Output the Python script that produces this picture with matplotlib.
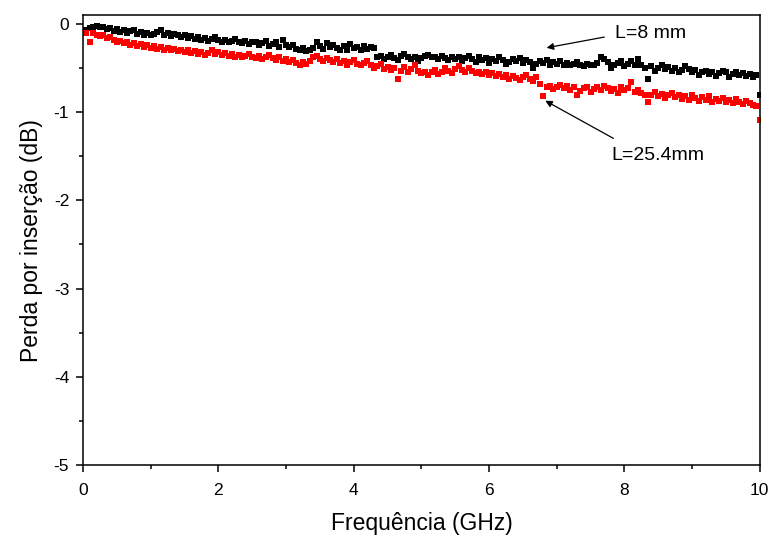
import numpy as np
import matplotlib.pyplot as plt

plt.rcParams['font.family'] = ['Liberation Sans', 'DejaVu Sans']
plt.rcParams['axes.unicode_minus'] = False

# frequency points, 0.05 GHz step
freq = [round(0.05 * k, 2) for k in range(1, 201)]

loss_8mm = [
    -0.07, -0.05, -0.03, -0.02, -0.04, -0.03, -0.06, -0.05, -0.08, -0.06,
    -0.09, -0.07, -0.10, -0.08, -0.07, -0.11, -0.09, -0.12, -0.10, -0.13,
    -0.11, -0.09, -0.07, -0.12, -0.10, -0.14, -0.11, -0.13, -0.15, -0.12,
    -0.16, -0.14, -0.17, -0.15, -0.18, -0.16, -0.19, -0.17, -0.15, -0.18,
    -0.20, -0.18, -0.21, -0.19, -0.17, -0.20, -0.22, -0.19, -0.23, -0.21,
    -0.20, -0.24, -0.22, -0.19, -0.25, -0.23, -0.21, -0.26, -0.18, -0.24,
    -0.26, -0.24, -0.28, -0.30, -0.27, -0.31, -0.29, -0.27, -0.20, -0.25,
    -0.28, -0.22, -0.26, -0.24, -0.27, -0.29, -0.25, -0.30, -0.23, -0.27,
    -0.26, -0.29, -0.25, -0.28, -0.26, -0.27, -0.38, -0.36, -0.40, -0.37,
    -0.35, -0.39, -0.41, -0.36, -0.34, -0.38, -0.40, -0.37, -0.42, -0.39,
    -0.36, -0.35, -0.38, -0.37, -0.40, -0.36, -0.39, -0.41, -0.38, -0.40,
    -0.37, -0.42, -0.39, -0.36, -0.40, -0.43, -0.38, -0.41, -0.39, -0.44,
    -0.40, -0.42, -0.38, -0.41, -0.45, -0.43, -0.40, -0.42, -0.39, -0.44,
    -0.41, -0.43, -0.50, -0.45, -0.42, -0.44, -0.41, -0.46, -0.43, -0.45,
    -0.42, -0.46, -0.44, -0.47, -0.45, -0.43, -0.46, -0.48, -0.45, -0.47,
    -0.46, -0.44, -0.37, -0.40, -0.43, -0.50, -0.47, -0.44, -0.42, -0.48,
    -0.45, -0.42, -0.47, -0.40, -0.46, -0.50, -0.62, -0.48, -0.53, -0.50,
    -0.47, -0.51, -0.49, -0.53, -0.50, -0.55, -0.52, -0.48, -0.51, -0.54,
    -0.52, -0.58, -0.55, -0.53, -0.57, -0.54, -0.59, -0.56, -0.53, -0.55,
    -0.60, -0.57, -0.55, -0.58, -0.56, -0.59, -0.57, -0.60, -0.58, -0.80,
]

loss_25mm = [
    -0.10, -0.21, -0.10, -0.12, -0.14, -0.13, -0.16, -0.15, -0.18, -0.20,
    -0.19, -0.22, -0.21, -0.24, -0.22, -0.25, -0.23, -0.26, -0.24, -0.27,
    -0.25, -0.28, -0.26, -0.29, -0.27, -0.30, -0.28, -0.31, -0.29, -0.32,
    -0.30, -0.33, -0.31, -0.34, -0.32, -0.35, -0.33, -0.30, -0.34, -0.32,
    -0.35, -0.33, -0.36, -0.34, -0.37, -0.35, -0.38, -0.36, -0.34, -0.37,
    -0.39, -0.36, -0.40, -0.37, -0.35, -0.39, -0.41, -0.38, -0.42, -0.40,
    -0.43, -0.41, -0.44, -0.46, -0.43, -0.45, -0.42, -0.38, -0.36, -0.40,
    -0.42, -0.39, -0.41, -0.43, -0.40, -0.44, -0.42, -0.46, -0.43, -0.41,
    -0.45, -0.47, -0.44, -0.42, -0.46, -0.50, -0.48, -0.45, -0.51, -0.49,
    -0.52, -0.50, -0.62, -0.53, -0.49, -0.55, -0.51, -0.47, -0.53, -0.56,
    -0.54, -0.58, -0.55, -0.52, -0.57, -0.54, -0.50, -0.53, -0.56, -0.51,
    -0.48, -0.52, -0.55, -0.50, -0.53, -0.56, -0.54, -0.57, -0.55, -0.58,
    -0.56, -0.59, -0.57, -0.60, -0.58, -0.62, -0.59, -0.61, -0.63, -0.60,
    -0.58, -0.62, -0.65, -0.60, -0.68, -0.82, -0.72, -0.70, -0.74, -0.71,
    -0.69, -0.73, -0.70, -0.75, -0.72, -0.80, -0.76, -0.73, -0.71, -0.77,
    -0.74, -0.72, -0.75, -0.70, -0.73, -0.76, -0.74, -0.78, -0.72, -0.75,
    -0.73, -0.66, -0.77, -0.75, -0.78, -0.80, -0.88, -0.80, -0.77, -0.82,
    -0.79, -0.84, -0.81, -0.78, -0.83, -0.80, -0.85, -0.82, -0.86, -0.81,
    -0.84, -0.87, -0.83, -0.86, -0.82, -0.88, -0.85, -0.87, -0.84, -0.89,
    -0.86, -0.90, -0.85, -0.88, -0.91, -0.87, -0.90, -0.92, -0.93, -1.09,
]

fig = plt.figure(figsize=(7.69, 5.41), dpi=100)
ax = fig.add_axes([0.108, 0.1405, 0.88, 0.8315])

ax.plot(freq, loss_8mm, 's', color='black', ms=4.5, mew=0)
ax.plot(freq, loss_25mm, 's', color='#ff0000', ms=4.5, mew=0)

ax.set_xlim(0, 10)
ax.set_ylim(-5, 0.1)
ax.set_xticks([0, 2, 4, 6, 8, 10])
ax.set_xticks([1, 3, 5, 7, 9], minor=True)
ax.set_yticks([0, -1, -2, -3, -4, -5])
ax.set_yticks([-0.5, -1.5, -2.5, -3.5, -4.5], minor=True)
ax.tick_params(which='major', direction='out', length=5, width=1.1, labelsize=12.5)
ax.tick_params(axis='x', which='major', pad=8)
ax.tick_params(axis='y', which='major', pad=5)
ax.tick_params(which='minor', direction='out', length=3, width=1.1)
for s in ax.spines.values():
    s.set_linewidth(1.1)

ax.set_xlabel('Frequência (GHz)', fontsize=16.5, labelpad=10)
ax.set_ylabel('Perda por inserção (dB)', fontsize=16.5, labelpad=8)

arrow = dict(arrowstyle='-|>', color='black', lw=0.9, mutation_scale=10, shrinkA=0, shrinkB=0)
ax.annotate('L=8 mm', xy=(6.85, -0.27), xytext=(7.86, -0.11), fontsize=14,
            va='center', ha='left', arrowprops=dict(arrow, relpos=(-0.15, 0.3)))
ax.annotate('L=25.4mm', xy=(6.83, -0.87), xytext=(7.81, -1.49), fontsize=14,
            va='center', ha='left', arrowprops=dict(arrow, relpos=(0.02, 1.5)))

fig.savefig('out.png', dpi=100)
